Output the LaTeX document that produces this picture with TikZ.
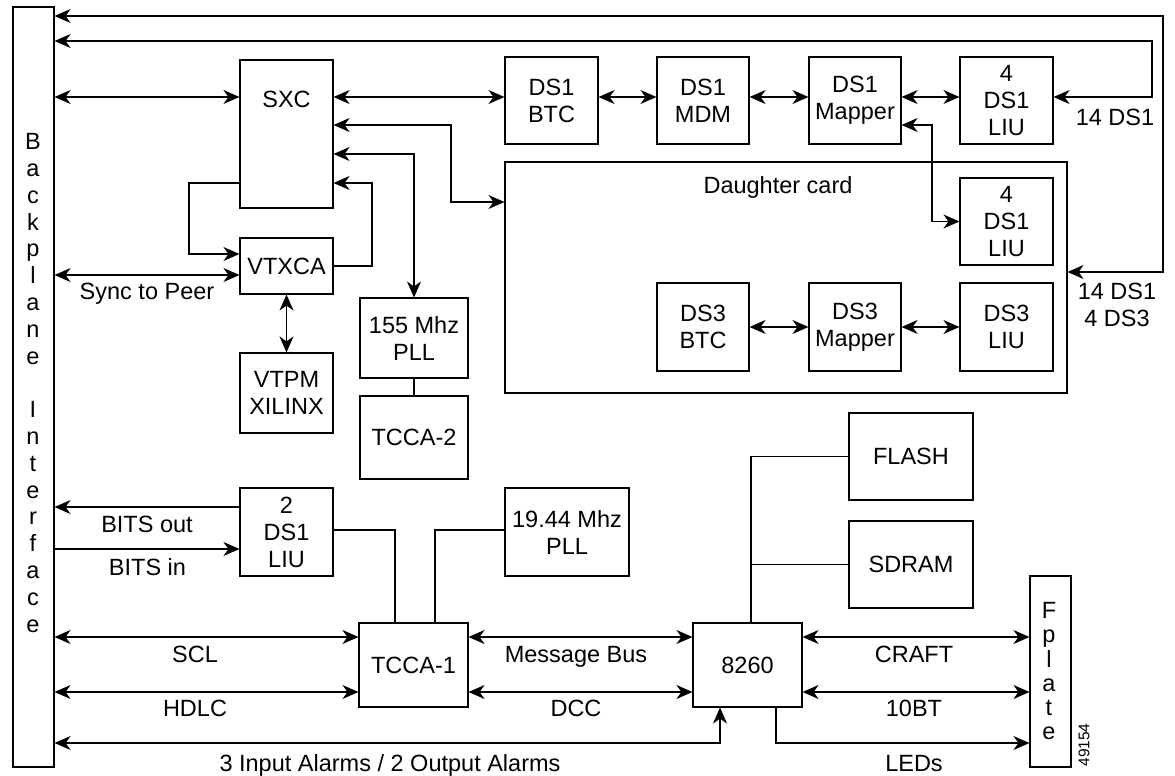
\documentclass[tikz,border=0pt]{standalone}
\usepackage{fontspec}
\setmainfont{Liberation Sans}
\usetikzlibrary{arrows.meta}
\begin{document}
\begin{tikzpicture}[x=1pt,y=-1pt, line width=1.1pt,
  >={Stealth[length=16pt,width=14pt,inset=5pt]},
  box/.style={draw, rectangle, inner sep=1pt, align=center, font=\fontsize{23.5}{27}\selectfont},
  lbl/.style={inner sep=0pt, align=center, font=\fontsize{23.5}{27}\selectfont}]
\useasboundingbox (0,0) rectangle (1175,776);
% boxes
\node[box, minimum width=41pt, minimum height=760pt] (bp) at (33.5,387) {};
\node[box, minimum width=93pt, minimum height=148pt] (sxc) at (286.5,134) {};
\node[lbl, anchor=base] (sxclbl) at (286.5,107) {SXC};
\node[box, minimum width=93pt, minimum height=56pt] (vtxca) at (286.5,266) {VTXCA};
\node[box, minimum width=93pt, minimum height=80pt] (vtpm) at (286.5,393) {VTPM\\XILINX};
\node[box, minimum width=108pt, minimum height=80pt] (pll155) at (414,338) {155 Mhz\\PLL};
\node[box, minimum width=108pt, minimum height=83pt] (tcca2) at (414,437.5) {TCCA-2};
\node[box, minimum width=562pt, minimum height=231pt] (dc) at (786,277.5) {};
\node[lbl, anchor=base] (dclbl) at (778,193) {Daughter card};
\node[box, minimum width=93pt, minimum height=87pt] (ds1btc) at (551.5,100.5) {DS1\\BTC};
\node[box, minimum width=92pt, minimum height=87pt] (ds1mdm) at (703,100.5) {DS1\\MDM};
\node[box, minimum width=92pt, minimum height=87pt] (ds1map) at (855,100.5) {DS1\\Mapper};
\node[box, minimum width=93pt, minimum height=87pt] (liu1) at (1006.5,100.5) {4\\DS1\\LIU};
\node[box, minimum width=93pt, minimum height=87pt] (liu2) at (1006.5,221.5) {4\\DS1\\LIU};
\node[box, minimum width=92pt, minimum height=88pt] (ds3btc) at (703,327) {DS3\\BTC};
\node[box, minimum width=92pt, minimum height=88pt] (ds3map) at (855,327) {DS3\\Mapper};
\node[box, minimum width=93pt, minimum height=88pt] (ds3liu) at (1006.5,327) {DS3\\LIU};
\node[box, minimum width=124pt, minimum height=87pt] (flash) at (911,456.5) {FLASH};
\node[box, minimum width=124pt, minimum height=87pt] (sdram) at (911,564.5) {SDRAM};
\node[box, minimum width=93pt, minimum height=88pt] (liu3) at (286.5,532) {2\\DS1\\LIU};
\node[box, minimum width=124pt, minimum height=88pt] (pll19) at (567,532) {19.44 Mhz\\PLL};
\node[box, minimum width=109pt, minimum height=84pt] (tcca1) at (413.5,665) {TCCA-1};
\node[box, minimum width=109pt, minimum height=84pt] (n8260) at (747.5,665) {8260};
\node[box, minimum width=41pt, minimum height=191pt] (fplate) at (1050.5,671.5) {};
% vertical texts
\node[lbl, anchor=north, font=\fontsize{23.5}{26.8}\selectfont] (bptext) at (33,133)
  {B\\a\\c\\k\\p\\l\\a\\n\\e\\[26.8pt]I\\n\\t\\e\\r\\f\\a\\c\\e};
\node[lbl, anchor=north, font=\fontsize{23.5}{24.2}\selectfont] (fptext) at (1049,602)
  {F\\p\\l\\a\\t\\e};
\node[lbl, rotate=90, font=\fontsize{15.5}{18}\selectfont] (fig) at (1084,745) {49154};
% connectors top
\draw[<->] (dc.east |- 0,272) -- (1163,272) -- (1163,16) -- (bp.east |- 0,16);
\draw[<->] (liu1.east |- 0,97) -- (1152,97) -- (1152,41) -- (bp.east |- 0,41);
\draw[<->] (bp.east |- 0,97) -- (sxc.west |- 0,97);
\draw[<->] (sxc.east |- 0,97) -- (ds1btc.west |- 0,97);
\draw[<->] (ds1btc.east |- 0,97) -- (ds1mdm.west |- 0,97);
\draw[<->] (ds1mdm.east |- 0,97) -- (ds1map.west |- 0,97);
\draw[<->] (ds1map.east |- 0,97) -- (liu1.west |- 0,97);
\draw[<->] (sxc.east |- 0,125) -- (451,125) -- (451,202) -- (dc.west |- 0,202);
\draw[<->] (sxc.east |- 0,154) -| (pll155.north);
\draw[->] (vtxca.east) -- (372,266) -- (372,183) -- (sxc.east |- 0,183);
\draw[->] (sxc.west |- 0,183) -- (189,183) -- (189,254) -- (vtxca.west |- 0,254);
\draw[<->] (bp.east |- 0,275) -- (vtxca.west |- 0,275);
\draw[<->] (vtxca.south) -- (vtpm.north);
\draw (pll155.south) -- (tcca2.north);
\draw[<->] (ds1map.east |- 0,125) -- (932,125) -- (932,221.5) -- (liu2.west);
\draw[<->] (ds3btc.east) -- (ds3map.west);
\draw[<->] (ds3map.east) -- (ds3liu.west);
% lower
\draw[->] (liu3.west |- 0,507) -- (bp.east |- 0,507);
\draw[->] (bp.east |- 0,549) -- (liu3.west |- 0,549);
\draw (liu3.east |- 0,530) -- (395,530) -- (tcca1.north -| 395,0);
\draw (pll19.west |- 0,530) -- (435,530) -- (tcca1.north -| 435,0);
\draw[<->] (bp.east |- 0,637) -- (tcca1.west |- 0,637);
\draw[<->] (bp.east |- 0,692) -- (tcca1.west |- 0,692);
\draw[<->] (tcca1.east |- 0,637) -- (n8260.west |- 0,637);
\draw[<->] (tcca1.east |- 0,692) -- (n8260.west |- 0,692);
\draw[<->] (bp.east |- 0,743) -- (720,743) -- (n8260.south -| 720,0);
\draw[<->] (n8260.east |- 0,637) -- (fplate.west |- 0,637);
\draw[<->] (n8260.east |- 0,692) -- (fplate.west |- 0,692);
\draw[->] (n8260.south -| 776,0) -- (776,743) -- (fplate.west |- 0,743);
\draw (n8260.north -| 751,0) -- (751,456.5) -- (flash.west);
\draw (751,564.5) -- (sdram.west);
% labels
\node[lbl, anchor=base] (lsync) at (147,299) {Sync to Peer};
\node[lbl, anchor=base] (l14a) at (1115,125) {14 DS1};
\node[lbl] (l14b) at (1117,304.5) {14 DS1\\4 DS3};
\node[lbl, anchor=base] (lbo) at (147,532) {BITS out};
\node[lbl, anchor=base] (lbi) at (147.5,575) {BITS in};
\node[lbl, anchor=base] (lscl) at (195,662) {SCL};
\node[lbl, anchor=base] (lhdlc) at (195,716) {HDLC};
\node[lbl, anchor=base] (lalm) at (390,771) {3 Input Alarms / 2 Output Alarms};
\node[lbl, anchor=base] (lmb) at (576,662) {Message Bus};
\node[lbl, anchor=base] (ldcc) at (576,716) {DCC};
\node[lbl, anchor=base] (lcraft) at (914,662) {CRAFT};
\node[lbl, anchor=base] (l10bt) at (914,716) {10BT};
\node[lbl, anchor=base] (lleds) at (914,771) {LEDs};
\end{tikzpicture}
\end{document}
